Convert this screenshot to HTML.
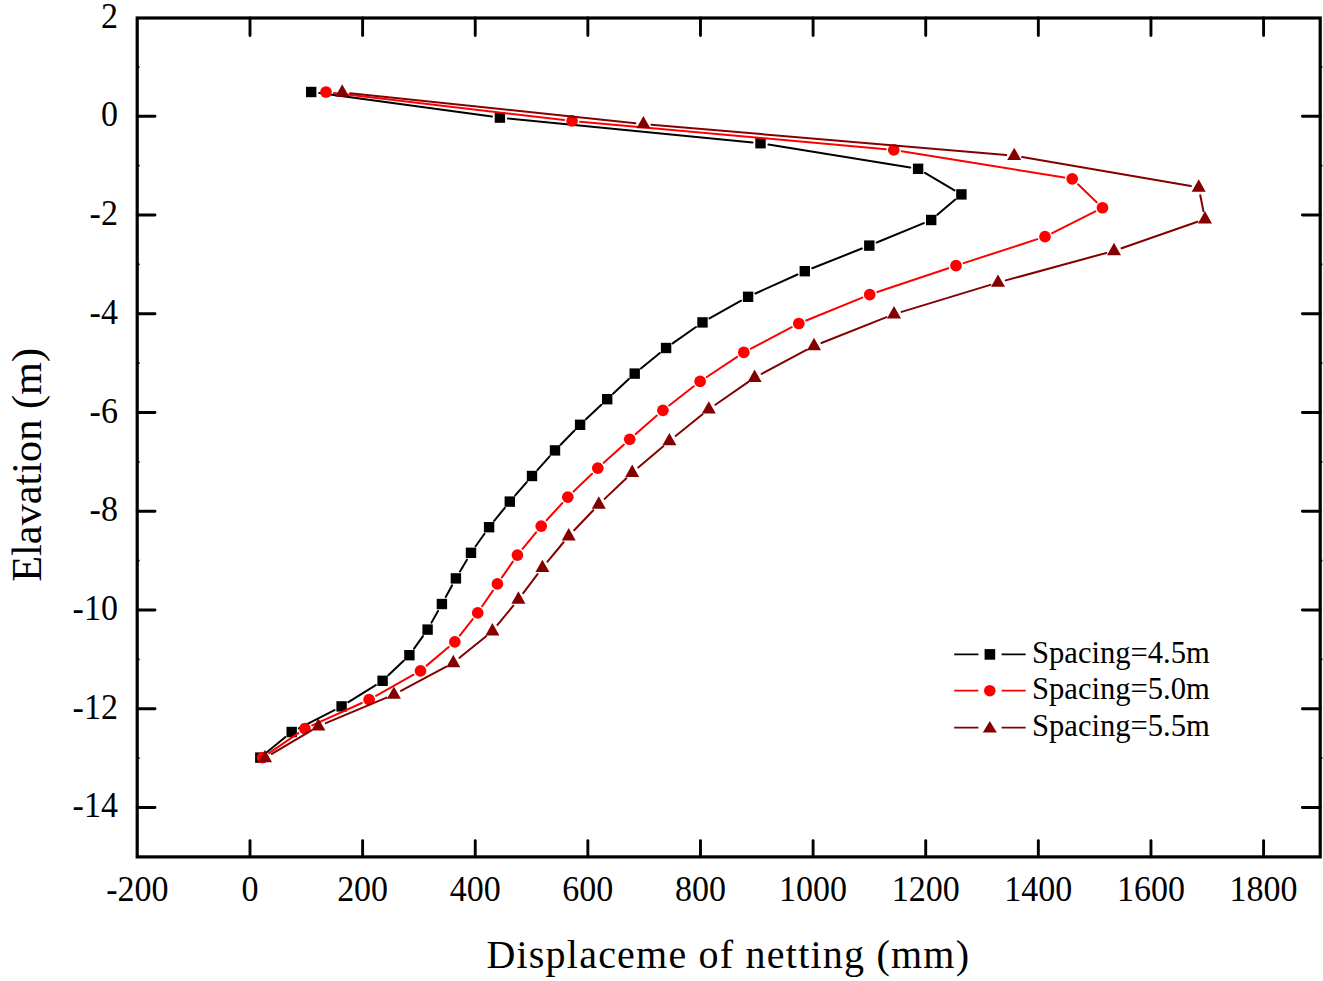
<!DOCTYPE html>
<html><head><meta charset="utf-8"><style>
html,body{margin:0;padding:0;background:#fff;}
body{width:1323px;height:981px;overflow:hidden;font-family:"Liberation Serif",serif;}
svg{display:block;}
</style></head><body>
<svg width="1323" height="981" viewBox="0 0 1323 981"><rect x="137.2" y="18.0" width="1183.00" height="838.90" fill="none" stroke="#000" stroke-width="3.2"/>
<path d="M137.20 116.30H155.00M1320.20 116.30H1302.40M137.20 215.04H155.00M1320.20 215.04H1302.40M137.20 313.78H155.00M1320.20 313.78H1302.40M137.20 412.52H155.00M1320.20 412.52H1302.40M137.20 511.26H155.00M1320.20 511.26H1302.40M137.20 610.00H155.00M1320.20 610.00H1302.40M137.20 708.74H155.00M1320.20 708.74H1302.40M137.20 807.48H155.00M1320.20 807.48H1302.40M250.00 856.90V840.60M250.00 18.00V35.50M362.62 856.90V840.60M362.62 18.00V35.50M475.24 856.90V840.60M475.24 18.00V35.50M587.86 856.90V840.60M587.86 18.00V35.50M700.48 856.90V840.60M700.48 18.00V35.50M813.10 856.90V840.60M813.10 18.00V35.50M925.72 856.90V840.60M925.72 18.00V35.50M1038.34 856.90V840.60M1038.34 18.00V35.50M1150.96 856.90V840.60M1150.96 18.00V35.50M1263.58 856.90V840.60M1263.58 18.00V35.50" stroke="#000" stroke-width="2.9" stroke-linecap="round" fill="none"/>
<path d="M137.20 66.93H139.60M1320.20 66.93H1322.40M137.20 165.67H139.60M1320.20 165.67H1322.40M137.20 264.41H139.60M1320.20 264.41H1322.40M137.20 363.15H139.60M1320.20 363.15H1322.40M137.20 461.89H139.60M1320.20 461.89H1322.40M137.20 560.63H139.60M1320.20 560.63H1322.40M137.20 659.37H139.60M1320.20 659.37H1322.40M137.20 758.11H139.60M1320.20 758.11H1322.40" stroke="#000" stroke-width="1.6" fill="none"/>
<g font-family="Liberation Serif" font-size="34" fill="#000"><text transform="translate(117.9 27.56) scale(1 1.06)" text-anchor="end">2</text><text transform="translate(117.9 126.30) scale(1 1.06)" text-anchor="end">0</text><text transform="translate(117.9 225.04) scale(1 1.06)" text-anchor="end">-2</text><text transform="translate(117.9 323.78) scale(1 1.06)" text-anchor="end">-4</text><text transform="translate(117.9 422.52) scale(1 1.06)" text-anchor="end">-6</text><text transform="translate(117.9 521.26) scale(1 1.06)" text-anchor="end">-8</text><text transform="translate(117.9 620.00) scale(1 1.06)" text-anchor="end">-10</text><text transform="translate(117.9 718.74) scale(1 1.06)" text-anchor="end">-12</text><text transform="translate(117.9 817.48) scale(1 1.06)" text-anchor="end">-14</text><text transform="translate(137.38 900.5) scale(1 1.06)" text-anchor="middle">-200</text><text transform="translate(250.00 900.5) scale(1 1.06)" text-anchor="middle">0</text><text transform="translate(362.62 900.5) scale(1 1.06)" text-anchor="middle">200</text><text transform="translate(475.24 900.5) scale(1 1.06)" text-anchor="middle">400</text><text transform="translate(587.86 900.5) scale(1 1.06)" text-anchor="middle">600</text><text transform="translate(700.48 900.5) scale(1 1.06)" text-anchor="middle">800</text><text transform="translate(813.10 900.5) scale(1 1.06)" text-anchor="middle">1000</text><text transform="translate(925.72 900.5) scale(1 1.06)" text-anchor="middle">1200</text><text transform="translate(1038.34 900.5) scale(1 1.06)" text-anchor="middle">1400</text><text transform="translate(1150.96 900.5) scale(1 1.06)" text-anchor="middle">1600</text><text transform="translate(1263.58 900.5) scale(1 1.06)" text-anchor="middle">1800</text></g>
<path d="M319.13 93.08L491.97 116.52M507.86 118.38L752.54 142.42M768.40 144.48L910.20 167.52M924.99 172.87L954.51 190.33M955.30 199.57L937.30 214.83M923.81 223.06L876.69 242.54M861.86 248.55L812.24 268.25M797.51 274.49L755.39 293.51M741.12 300.72L709.48 318.48M695.96 327.00L672.64 343.40M659.90 353.06L640.90 368.54M628.84 379.05L613.06 393.75M601.38 404.69L585.92 419.31M574.50 430.51L560.60 444.69M549.65 456.35L537.35 470.05M526.76 482.04L515.04 495.56M504.77 507.82L494.13 520.98M484.48 533.73L475.62 546.27M466.94 559.69L459.96 571.51M452.06 585.42L445.74 596.98M438.00 610.98L431.50 622.62M422.96 636.12L414.04 648.68M403.62 660.73L388.38 675.27M375.81 685.04L348.39 702.16M334.48 710.05L298.82 728.35M285.50 737.06L266.50 752.54" stroke="#000000" stroke-width="2.0" fill="none" stroke-linecap="round"/>
<g fill="#000"><rect x="306.00" y="86.80" width="10.4" height="10.4"/><rect x="494.70" y="112.40" width="10.4" height="10.4"/><rect x="755.30" y="138.00" width="10.4" height="10.4"/><rect x="912.90" y="163.60" width="10.4" height="10.4"/><rect x="956.20" y="189.20" width="10.4" height="10.4"/><rect x="926.00" y="214.80" width="10.4" height="10.4"/><rect x="864.10" y="240.40" width="10.4" height="10.4"/><rect x="799.60" y="266.00" width="10.4" height="10.4"/><rect x="742.90" y="291.60" width="10.4" height="10.4"/><rect x="697.30" y="317.20" width="10.4" height="10.4"/><rect x="660.90" y="342.80" width="10.4" height="10.4"/><rect x="629.50" y="368.40" width="10.4" height="10.4"/><rect x="602.00" y="394.00" width="10.4" height="10.4"/><rect x="574.90" y="419.60" width="10.4" height="10.4"/><rect x="549.80" y="445.20" width="10.4" height="10.4"/><rect x="526.80" y="470.80" width="10.4" height="10.4"/><rect x="504.60" y="496.40" width="10.4" height="10.4"/><rect x="483.90" y="522.00" width="10.4" height="10.4"/><rect x="465.80" y="547.60" width="10.4" height="10.4"/><rect x="450.70" y="573.20" width="10.4" height="10.4"/><rect x="436.70" y="598.80" width="10.4" height="10.4"/><rect x="422.40" y="624.40" width="10.4" height="10.4"/><rect x="404.20" y="650.00" width="10.4" height="10.4"/><rect x="377.40" y="675.60" width="10.4" height="10.4"/><rect x="336.40" y="701.20" width="10.4" height="10.4"/><rect x="286.50" y="726.80" width="10.4" height="10.4"/><rect x="255.10" y="752.40" width="10.4" height="10.4"/></g>
<path d="M333.95 92.93L564.15 120.00M580.07 121.66L885.83 149.16M901.70 151.16L1064.30 177.54M1077.99 184.34L1096.71 202.23M1095.35 211.35L1052.15 233.10M1037.39 239.17L963.61 263.16M948.42 268.18L877.28 292.03M862.29 297.60L806.21 320.49M791.72 327.24L750.88 348.73M737.13 356.87L706.77 376.97M693.79 386.30L669.21 405.42M656.87 415.59L635.73 434.01M623.77 444.64L603.73 462.83M592.04 473.76L573.56 491.59M562.39 503.04L546.61 520.20M536.12 532.27L522.48 548.85M512.85 561.61L501.95 577.38M492.90 590.58L482.20 606.29M472.74 619.18L459.76 635.57M448.69 647.00L426.61 665.62M413.53 674.71L376.07 695.80M361.81 703.01L312.19 725.37M298.29 733.17L269.11 753.09" stroke="#ff0000" stroke-width="2.0" fill="none" stroke-linecap="round"/>
<g fill="#ff0000"><circle cx="326.00" cy="92.00" r="5.85"/><circle cx="572.10" cy="120.94" r="5.85"/><circle cx="893.80" cy="149.88" r="5.85"/><circle cx="1072.20" cy="178.82" r="5.85"/><circle cx="1102.50" cy="207.76" r="5.85"/><circle cx="1045.00" cy="236.70" r="5.85"/><circle cx="956.00" cy="265.63" r="5.85"/><circle cx="869.70" cy="294.57" r="5.85"/><circle cx="798.80" cy="323.51" r="5.85"/><circle cx="743.80" cy="352.45" r="5.85"/><circle cx="700.10" cy="381.39" r="5.85"/><circle cx="662.90" cy="410.33" r="5.85"/><circle cx="629.70" cy="439.27" r="5.85"/><circle cx="597.80" cy="468.21" r="5.85"/><circle cx="567.80" cy="497.15" r="5.85"/><circle cx="541.20" cy="526.09" r="5.85"/><circle cx="517.40" cy="555.03" r="5.85"/><circle cx="497.40" cy="583.97" r="5.85"/><circle cx="477.70" cy="612.90" r="5.85"/><circle cx="454.80" cy="641.84" r="5.85"/><circle cx="420.50" cy="670.78" r="5.85"/><circle cx="369.10" cy="699.72" r="5.85"/><circle cx="304.90" cy="728.66" r="5.85"/><circle cx="262.50" cy="757.60" r="5.85"/></g>
<path d="M350.16 93.19L635.44 123.21M651.37 124.73L1006.23 155.06M1022.08 157.09L1190.82 186.08M1200.26 195.28L1203.44 211.28M1197.45 221.76L1121.55 248.19M1106.28 252.93L1005.72 280.41M990.35 284.85L901.65 311.88M886.56 317.16L821.44 342.97M806.94 349.68L761.66 373.84M748.02 382.16L715.38 404.75M702.57 414.32L675.63 435.98M663.31 446.19L638.29 467.50M626.40 478.20L604.60 498.88M593.29 510.19L574.21 530.28M563.59 542.24L547.51 561.62M537.57 574.16L523.23 593.10M513.33 605.66L497.47 624.98M486.19 636.21L459.51 657.83M446.24 666.63L400.96 690.79M386.52 697.66L325.78 723.16M311.52 730.34L271.88 753.87" stroke="#840000" stroke-width="2.0" fill="none" stroke-linecap="round"/>
<g fill="#840000"><path d="M342.20 84.25L349.20 96.65L335.20 96.65Z"/><path d="M643.40 115.95L650.40 128.35L636.40 128.35Z"/><path d="M1014.20 147.64L1021.20 160.04L1007.20 160.04Z"/><path d="M1198.70 179.34L1205.70 191.74L1191.70 191.74Z"/><path d="M1205.00 211.03L1212.00 223.43L1198.00 223.43Z"/><path d="M1114.00 242.73L1121.00 255.13L1107.00 255.13Z"/><path d="M998.00 274.42L1005.00 286.82L991.00 286.82Z"/><path d="M894.00 306.12L901.00 318.52L887.00 318.52Z"/><path d="M814.00 337.81L821.00 350.21L807.00 350.21Z"/><path d="M754.60 369.51L761.60 381.91L747.60 381.91Z"/><path d="M708.80 401.20L715.80 413.60L701.80 413.60Z"/><path d="M669.40 432.90L676.40 445.30L662.40 445.30Z"/><path d="M632.20 464.59L639.20 476.99L625.20 476.99Z"/><path d="M598.80 496.29L605.80 508.69L591.80 508.69Z"/><path d="M568.70 527.98L575.70 540.38L561.70 540.38Z"/><path d="M542.40 559.68L549.40 572.08L535.40 572.08Z"/><path d="M518.40 591.37L525.40 603.77L511.40 603.77Z"/><path d="M492.40 623.07L499.40 635.47L485.40 635.47Z"/><path d="M453.30 654.76L460.30 667.16L446.30 667.16Z"/><path d="M393.90 686.46L400.90 698.86L386.90 698.86Z"/><path d="M318.40 718.15L325.40 730.55L311.40 730.55Z"/><path d="M265.00 749.85L272.00 762.25L258.00 762.25Z"/></g>
<path d="M954.2 654.3H978.4M1001.6 654.3H1025.7" stroke="#000000" stroke-width="1.7"/><rect x="984.6" y="649.0999999999999" width="10.6" height="10.6" fill="#000000"/><text x="1032" y="662.90" font-family="Liberation Serif" font-size="30.6" fill="#000">Spacing=4.5m</text><path d="M954.2 690.7H978.4M1001.6 690.7H1025.7" stroke="#ff0000" stroke-width="1.7"/><circle cx="989.8" cy="690.7" r="5.8" fill="#ff0000"/><text x="1032" y="699.30" font-family="Liberation Serif" font-size="30.6" fill="#000">Spacing=5.0m</text><path d="M954.2 727.6H978.4M1001.6 727.6H1025.7" stroke="#840000" stroke-width="1.7"/><path d="M989.8 721.1L996.8 732.5L982.8 732.5Z" fill="#840000"/><text x="1032" y="736.20" font-family="Liberation Serif" font-size="30.6" fill="#000">Spacing=5.5m</text>
<text x="728.3" y="967.8" text-anchor="middle" letter-spacing="1.22" font-family="Liberation Serif" font-size="40" fill="#000">Displaceme of netting (mm)</text>
<text transform="translate(41.2 464.9) rotate(-90)" x="0" y="0" text-anchor="middle" font-family="Liberation Serif" font-size="42.3" fill="#000">Elavation (m)</text></svg>
</body></html>
